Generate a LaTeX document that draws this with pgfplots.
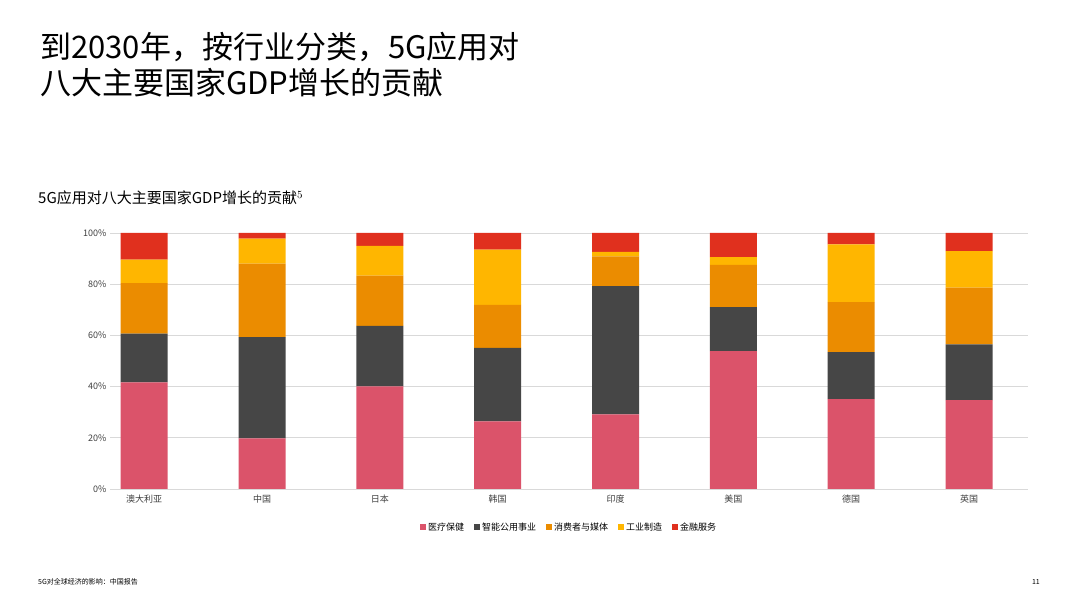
\documentclass[border=0pt]{standalone}
\usepackage{pgfplots}
\pgfplotsset{compat=1.18}
\usepackage{fontspec}
\setmainfont{Noto Sans CJK SC}
\definecolor{cpink}{HTML}{DB536A}
\definecolor{cdark}{HTML}{464646}
\definecolor{corange}{HTML}{EB8C00}
\definecolor{cyellow}{HTML}{FFB600}
\definecolor{cred}{HTML}{E0301E}
\definecolor{cgrid}{HTML}{D9D9D9}
\begin{document}
\begin{tikzpicture}
\path[fill=white] (0pt,0pt) rectangle (1080pt,607pt);
\node[anchor=north west,align=left,font=\fontsize{31}{36}\selectfont,inner sep=0] at (40pt,575pt) {到2030年，按行业分类，5G应用对\\八大主要国家GDP增长的贡献};
\node[anchor=west,inner sep=0,font=\fontsize{15}{18}\selectfont] at (38pt,409pt) {5G应用对八大主要国家GDP增长的贡献$^{\scriptstyle 5}$};
\node[anchor=west,inner sep=0,font=\fontsize{7}{8}\selectfont] at (38pt,25pt) {5G对全球经济的影响：中国报告};
\node[anchor=east,inner sep=0,font=\fontsize{7}{8}\selectfont] at (1040pt,25pt) {11};
\begin{axis}[at={(110pt,118pt)},anchor=south west,width=918pt,height=256pt,scale only axis,
  ybar stacked,bar width=47pt,
  xmin=-0.29,xmax=7.5,ymin=0,ymax=100,
  xtick={0,...,7},xticklabels={澳大利亚,中国,日本,韩国,印度,美国,德国,英国},
  ytick={0,20,...,100},yticklabel={\pgfmathprintnumber{\tick}\%},
  /pgf/number format/assume math mode=true,
  ymajorgrids,grid style={cgrid,line width=0.8pt},
  axis x line*=bottom, axis y line*=left, y axis line style={draw=none},
  x axis line style={draw=cgrid,line width=0.8pt,-},
  major tick length=0pt,
  tick label style={font=\fontsize{9}{10}\selectfont,text=black!75},
  xticklabel style={yshift=-2pt},
  legend style={at={(0.5,-0.15)},anchor=center,draw=none,legend columns=5,
    font=\fontsize{9}{10}\selectfont,/tikz/every even column/.append style={column sep=8pt}},
  legend image code/.code={\fill[#1] (0pt,-3pt) rectangle (6pt,3pt);},
]
\addplot[fill=cpink,draw=none] coordinates {(0,41.6)(1,19.8)(2,40.1)(3,26.4)(4,29.1)(5,53.9)(6,35.1)(7,34.7)};
\addplot[fill=cdark,draw=none] coordinates {(0,19.1)(1,39.5)(2,23.6)(3,28.7)(4,50.1)(5,17.1)(6,18.4)(7,21.8)};
\addplot[fill=corange,draw=none] coordinates {(0,19.7)(1,28.7)(2,19.6)(3,16.8)(4,11.7)(5,16.5)(6,19.5)(7,22.2)};
\addplot[fill=cyellow,draw=none] coordinates {(0,9.2)(1,9.8)(2,11.7)(3,21.6)(4,1.7)(5,3.1)(6,22.6)(7,14.2)};
\addplot[fill=cred,draw=none] coordinates {(0,10.4)(1,2.2)(2,5.0)(3,6.5)(4,7.4)(5,9.4)(6,4.4)(7,7.1)};
\legend{医疗保健,智能公用事业,消费者与媒体,工业制造,金融服务}
\end{axis}
\end{tikzpicture}
\end{document}
